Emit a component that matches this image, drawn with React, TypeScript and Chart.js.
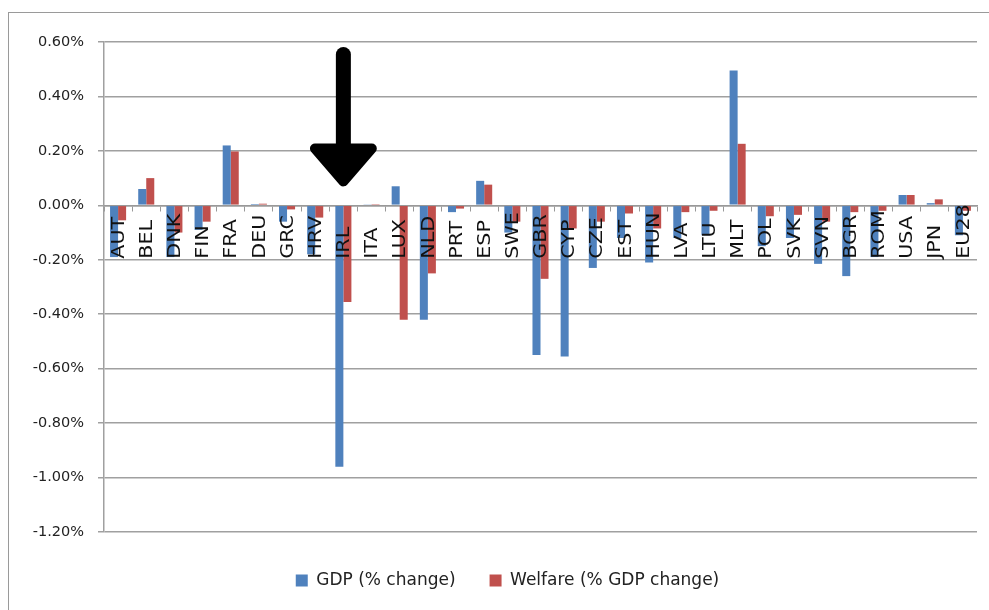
import React, { useEffect, useRef } from 'react';
import { Chart, registerables } from 'chart.js';

Chart.register(...registerables);

const categories = [
  'AUT', 'BEL', 'DNK', 'FIN', 'FRA', 'DEU', 'GRC', 'HRV', 'IRL', 'ITA', 'LUX',
  'NLD', 'PRT', 'ESP', 'SWE', 'GBR', 'CYP', 'CZE', 'EST', 'HUN', 'LVA', 'LTU',
  'MLT', 'POL', 'SVK', 'SVN', 'BGR', 'ROM', 'USA', 'JPN', 'EU28',
];

// values in percent
const gdpChange = [
  -0.19, 0.06, -0.19, -0.09, 0.22, 0.005, -0.06, -0.18, -0.96, 0.002, 0.07,
  -0.42, -0.025, 0.09, -0.1, -0.55, -0.555, -0.23, -0.12, -0.21, -0.12, -0.11,
  0.495, -0.15, -0.12, -0.215, -0.26, -0.19, 0.038, 0.008, -0.11,
];

const welfareChange = [
  -0.055, 0.1, -0.1, -0.06, 0.198, 0.006, -0.015, -0.045, -0.355, 0.001, -0.42,
  -0.25, -0.012, 0.076, -0.06, -0.27, -0.085, -0.06, -0.03, -0.085, -0.025, -0.02,
  0.226, -0.04, -0.035, -0.06, -0.025, -0.02, 0.038, 0.022, -0.02,
];

const seriesNames = ['GDP (% change)', 'Welfare (% GDP change)'];

const yMin = -1.2;
const yMax = 0.6;
const yStep = 0.2;

// category labels sit between the zero line and this value, reading upward
const labelBandBottom = -0.2;

// annotation arrow pointing at a category
const arrowCategory = 'IRL';
const arrowShaftTop = 0.554;
const arrowHeadTop = 0.209;
const arrowTip = 0.088;
const arrowHalfWidth = 1.01; // in categories

const arrowPlugin = {
  id: 'arrowAnnotation',
  afterDatasetsDraw(chart: any) {
    const { ctx, scales } = chart;
    const x = scales.x;
    const y = scales.y;
    const i = categories.indexOf(arrowCategory);
    const cx = x.getPixelForValue(i);
    const yTop = y.getPixelForValue(arrowShaftTop);
    const yHead = y.getPixelForValue(arrowHeadTop);
    const yTip = y.getPixelForValue(arrowTip);
    ctx.save();
    ctx.fillStyle = '#000';
    ctx.strokeStyle = '#000';
    ctx.lineCap = 'round';
    ctx.lineWidth = 15;
    ctx.beginPath();
    ctx.moveTo(cx, yTop);
    ctx.lineTo(cx, yHead + 4);
    ctx.stroke();
    ctx.lineJoin = 'round';
    ctx.lineWidth = 10;
    ctx.beginPath();
    ctx.moveTo(x.getPixelForValue(i - arrowHalfWidth), yHead);
    ctx.lineTo(x.getPixelForValue(i + arrowHalfWidth), yHead);
    ctx.lineTo(cx, yTip);
    ctx.closePath();
    ctx.fill();
    ctx.stroke();
    ctx.restore();
  },
};

// draws the category names rotated, starting at the bottom of the label band
const categoryLabelPlugin = {
  id: 'categoryLabels',
  afterDraw(chart: any) {
    const { ctx, scales } = chart;
    const x = scales.x;
    const y = scales.y;
    const yBottom = y.getPixelForValue(labelBandBottom) - 1;
    ctx.save();
    ctx.fillStyle = '#111';
    ctx.font = "18px 'DejaVu Sans', sans-serif";
    ctx.textAlign = 'left';
    ctx.textBaseline = 'middle';
    categories.forEach((label, i) => {
      const cx = x.getPixelForValue(i);
      ctx.save();
      ctx.translate(cx + 1, yBottom);
      ctx.rotate(-Math.PI / 2);
      ctx.scale(1.15, 1);
      ctx.fillText(label, 0, 0);
      ctx.restore();
    });
    ctx.restore();
  },
};

// nudge the legend to sit centred like the original
const legendShiftPlugin = {
  id: 'legendShift',
  afterLayout(chart: any) {
    const l = chart.legend;
    if (l) {
      l.left += 4;
      l.right += 4;
    }
  },
};

export default function App() {
  const canvasRef = useRef<HTMLCanvasElement | null>(null);

  useEffect(() => {
    if (!canvasRef.current) return;
    Chart.defaults.font.family = "'DejaVu Sans', sans-serif";
    const chart = new Chart(canvasRef.current, {
      type: 'bar',
      data: {
        labels: categories,
        datasets: [
          {
            label: seriesNames[0],
            data: gdpChange,
            backgroundColor: '#4F81BD',
            borderWidth: 0,
            categoryPercentage: 0.57,
            barPercentage: 1,
          },
          {
            label: seriesNames[1],
            data: welfareChange,
            backgroundColor: '#C0504D',
            borderWidth: 0,
            categoryPercentage: 0.57,
            barPercentage: 1,
          },
        ],
      },
      options: {
        responsive: false,
        animation: false,
        layout: { padding: { left: 30, right: 12, top: 42, bottom: 11 } },
        plugins: {
          tooltip: { enabled: false },
          legend: {
            position: 'bottom',
            title: { display: true, text: ' ', font: { size: 5, lineHeight: 1.2 }, padding: 0 },
            labels: {
              boxWidth: 12,
              boxHeight: 12,
              padding: 34,
              color: '#222',
              font: { size: 17 },
            },
          },
        },
        scales: {
          x: {
            position: { y: 0 } as any,
            offset: true,
            z: 1,
            grid: {
              display: true,
              drawOnChartArea: false,
              drawTicks: true,
              tickLength: 5,
              color: '#999',
              offset: true,
            },
            border: { display: true, color: '#999', width: 1.5 },
            ticks: { display: false, autoSkip: false },
          },
          y: {
            min: yMin,
            max: yMax,
            ticks: {
              stepSize: yStep,
              padding: 14,
              color: '#222',
              font: { size: 14.5 },
              callback: (v: any) => Number(v).toFixed(2) + '%',
            },
            grid: { color: '#a0a0a0', lineWidth: 1.5, tickLength: 6 },
            border: { color: '#a0a0a0', width: 1.5 },
            afterFit: (s: any) => {
              s.width = 74;
            },
          },
        },
      },
      plugins: [arrowPlugin, categoryLabelPlugin, legendShiftPlugin],
    });
    return () => chart.destroy();
  }, []);

  return (
    <div style={{ position: 'absolute', left: 0, top: 0, width: 989, height: 610, overflow: 'hidden' }}>
      <div
        style={{
          position: 'absolute',
          left: 8,
          top: 12,
          width: 1000,
          height: 640,
          borderTop: '1px solid #9a9a9a',
          borderLeft: '1px solid #9a9a9a',
          boxSizing: 'border-box',
        }}
      />
      <canvas
        ref={canvasRef}
        width={989}
        height={610}
        style={{ position: 'absolute', left: 0, top: 0, width: 989, height: 610 }}
      />
    </div>
  );
}
